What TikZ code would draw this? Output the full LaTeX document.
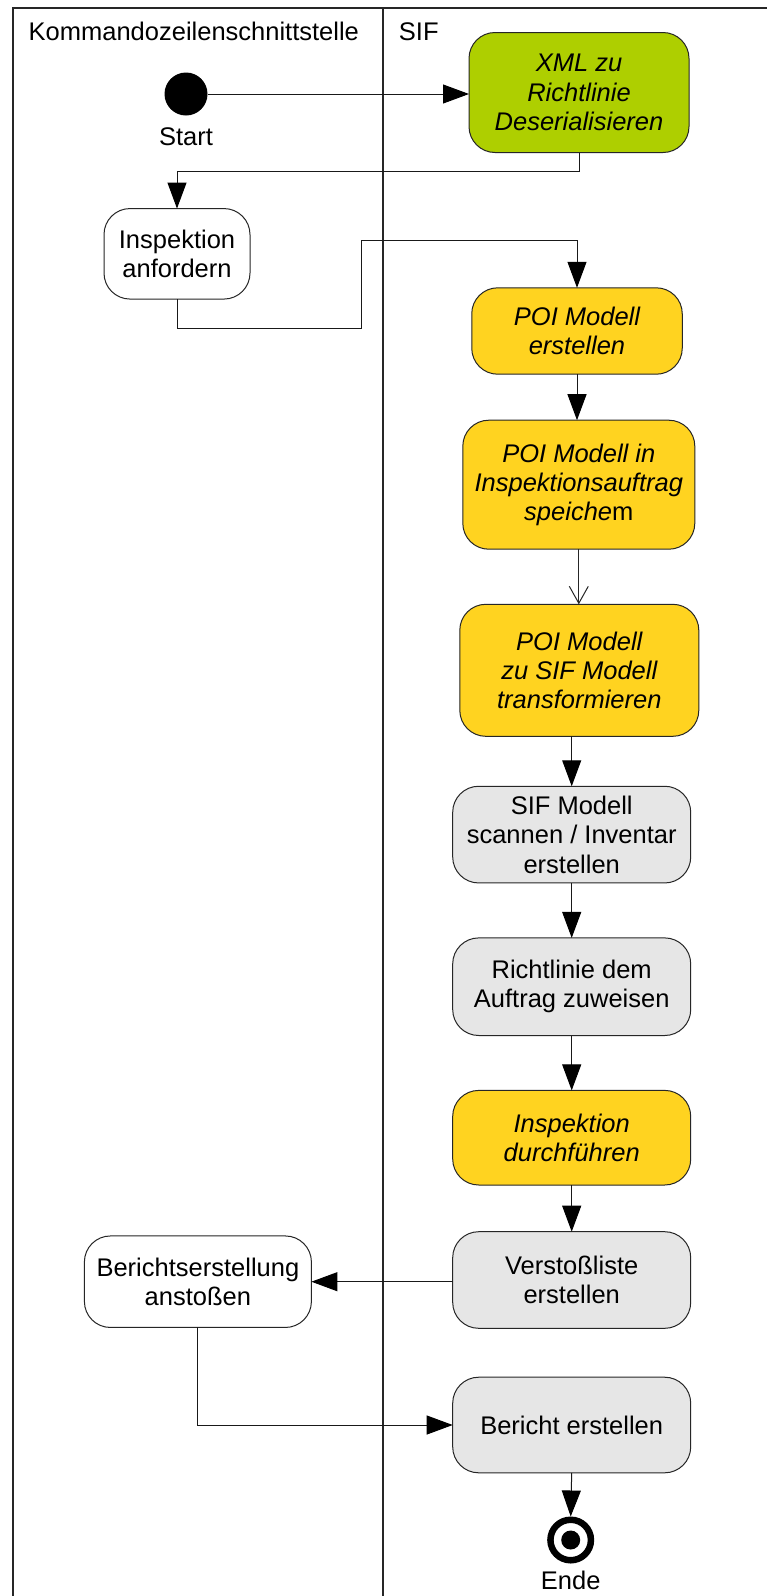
\documentclass[tikz,border=0pt]{standalone}
\usepackage{fontspec}
\setmainfont{Liberation Sans}
\usetikzlibrary{arrows.meta}
\definecolor{actgreen}{HTML}{AECF00}
\definecolor{actyellow}{HTML}{FFD320}
\definecolor{actgray}{HTML}{E6E6E6}
\begin{document}
\begin{tikzpicture}[x=1pt,y=-1pt,
  every node/.style={font=\fontsize{25.5}{29.3}\selectfont},
  act/.style={draw=black!85, line width=1pt, rounded corners=26pt, align=center,
    inner sep=0pt, outer sep=0pt},
  actwhite/.style={act, fill=white},
  actgrn/.style={act, fill=actgreen, font=\fontsize{25.5}{29.3}\selectfont\itshape},
  actylw/.style={act, fill=actyellow, font=\fontsize{25.5}{29.3}\selectfont\itshape},
  actgry/.style={act, fill=actgray},
  flow/.style={draw=black!90, line width=1pt, -{Triangle[length=26pt,width=19pt,fill=black,color=black]}},
  openflow/.style={draw=black!85, line width=1pt, -{Straight Barb[length=17pt,width=19pt,line width=1pt]}},
  lane/.style={draw=black!85, line width=1.5pt}
]
\useasboundingbox (0,0) rectangle (767,1596);
\fill[white] (0,0) rectangle (767,1596);

% swimlane frame
\draw[lane] (13,1596) -- (13,8) -- (767,8);
\draw[lane] (383,8) -- (383,1596);
\node[anchor=base west, inner sep=0pt] (laneA) at (28.5,40.7) {Kommandozeilenschnittstelle};
\node[anchor=base west, inner sep=0pt] (laneB) at (398.7,40.7) {SIF};

% start / end
\node[circle, fill=black, minimum size=43pt, inner sep=0pt, outer sep=0pt] (start) at (186,94) {};
\node (startlbl) at (186,136.7) {Start};
\node[circle, draw=black, line width=6.5pt, minimum size=40.5pt, inner sep=0pt, outer sep=3.25pt] (ende) at (570.7,1540) {};
\fill[black] (ende.center) circle (9.5);
\node (endelbl) at (570.7,1580) {Ende};

% activities
\node[actgrn, minimum width=220pt, minimum height=120pt] (xml) at (579,92.5) {XML zu\\Richtlinie\\Deserialisieren};
\node[actwhite, minimum width=146pt, minimum height=90.5pt] (insp) at (177,253.8) {Inspektion\\anfordern};
\node[actylw, minimum width=210.5pt, minimum height=86.4pt] (poia) at (577,331) {POI Modell\\erstellen};
\node[actylw, minimum width=232pt, minimum height=129pt] (poib) at (578.8,484.7) {POI Modell in\\Inspektionsauftrag\\speiche{\upshape m}};
\node[actylw, minimum width=239pt, minimum height=132pt] (poic) at (579.3,670.3) {POI Modell\\zu SIF Modell\\transformieren};
\node[actgry, minimum width=238pt, minimum height=96.7pt] (scan) at (571.7,834.6) {SIF Modell\\scannen / Inventar\\erstellen};
\node[actgry, minimum width=238pt, minimum height=97.6pt] (assign) at (571.7,986.7) {Richtlinie dem\\Auftrag zuweisen};
\node[actylw, minimum width=238pt, minimum height=94.6pt] (run) at (571.7,1137.7) {Inspektion\\durchführen};
\node[actgry, minimum width=238pt, minimum height=96.6pt] (viol) at (571.7,1280) {Verstoßliste\\erstellen};
\node[actwhite, minimum width=227pt, minimum height=91.5pt] (trigger) at (197.9,1281.7) {Berichtserstellung\\anstoßen};
\node[actgry, minimum width=238pt, minimum height=95.6pt] (report) at (571.7,1425) {Bericht erstellen};

% bend points
\coordinate (k1) at (579,171);
\coordinate (k2) at (361,328.6);
\coordinate (k3) at (361,240);
\coordinate (k4) at (197.9,1425);

% control flow
\draw[flow] (start.east) -- (start.east -| xml.west);
\draw[flow] (xml.south) -- (k1) -| (insp.north);
\draw[flow] (insp.south) |- (k2) -- (k3) -| (poia.north);
\draw[flow] (poia.south) -- (poia.south |- poib.north);
\draw[openflow] (poib.south) -- (poib.south |- poic.north);
\draw[flow] (scan.north |- poic.south) -- (scan.north);
\draw[flow] (scan.south) -- (assign.north);
\draw[flow] (assign.south) -- (run.north);
\draw[flow] (run.south) -- (viol.north);
\draw[flow] (viol.west |- trigger.east) -- (trigger.east);
\draw[flow] (trigger.south) -- (k4) -- (report.west);
\draw[flow] (report.south) -- (ende.north);
\end{tikzpicture}
\end{document}
